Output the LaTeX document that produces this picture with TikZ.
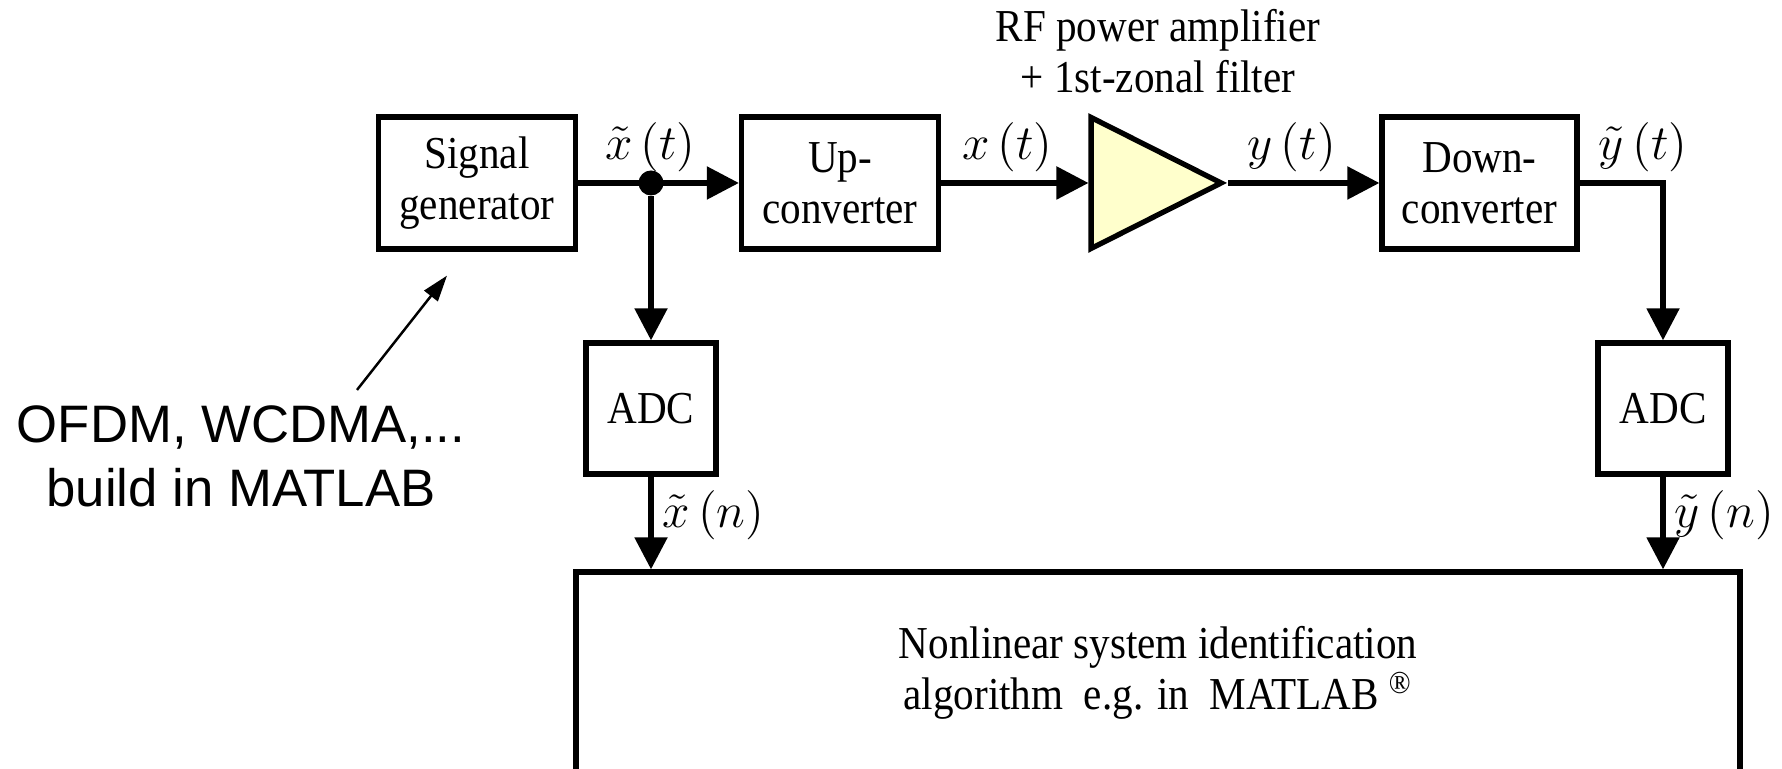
\RequirePackage{fix-cm}
\documentclass[tikz,border=0pt]{standalone}
\usepackage{fontspec}
\setmainfont{Liberation Serif}[FakeStretch=0.9]
\newfontfamily\notefont{Liberation Sans}
\usepackage{tikz}
\usetikzlibrary{shapes.geometric, positioning, calc}
\usetikzlibrary{arrows.meta}
\usepackage{xcolor}
\definecolor{ampyellow}{RGB}{255,255,204}

\begin{document}
\begin{tikzpicture}[
                auto,
                block/.style={rectangle, draw, line width=1.5pt, minimum width=1.97cm, minimum height=1.32cm, align=center, inner sep=1pt, font=\fontsize{13}{14.5}\selectfont},
                adcblock/.style={block, minimum width=1.30cm, minimum height=1.31cm},
                amplifier/.style={isosceles triangle, isosceles triangle stretches, draw, line width=1.5pt, fill=ampyellow, minimum width=1.31cm, minimum height=1.30cm, inner sep=0pt},
                junction/.style={circle, fill, inner sep=0pt, minimum size=0.25cm},
                sig/.style={font=\fontsize{14}{16}\selectfont, inner sep=2.5pt},
                caption/.style={align=center, font=\fontsize{13}{14.5}\selectfont},
                remark/.style={align=center, font=\notefont\fontsize{15}{18.2}\selectfont},
                line/.style={draw, line width=1.5pt, -{Triangle[length=3.2mm, width=3.2mm]}},
                note/.style={draw, line width=0.7pt, -{Triangle[length=2.6mm, width=1.7mm]}}
            ]
                \useasboundingbox (0,0) rectangle (17.82,7.69);

                % Transmit and receive chain
                \node[block] (sig) at (4.77,5.86) {Signal\\generator};
                \node[block] (up) at (8.40,5.86) {Up-\\converter};
                \node[amplifier, anchor=apex] (pa) at (12.28,5.86) {};
                \node[caption] (patext) at (11.58,7.18) {RF power amplifier\\+ 1st-zonal filter};
                \node[block, minimum width=1.95cm] (down) at (14.795,5.86) {Down-\\converter};
                \node[junction] (split) at (6.51,5.86) {};

                % Sampling and identification
                \node[adcblock] (adc1) at (6.51,3.605) {ADC};
                \node[adcblock] (adc2) at (16.63,3.605) {ADC};
                \node[block, minimum width=11.64cm, minimum height=2.02cm] (alg) at (11.58,0.96) {Nonlinear system identification\\algorithm~ e.g. in~ MATLAB~\textsuperscript{\textregistered}};

                % Test signals
                \node[remark] (src) at (2.41,3.13) {OFDM, WCDMA,...\\build in MATLAB};

                \path[line] (sig) -- node[sig, above, pos=0.45] {$\tilde{x}\,(t)$} (up);
                \path[line] (up) -- node[sig, above, pos=0.45] {$x\,(t)$} (pa);
                \path[line] (pa.apex) -- node[sig, above, pos=0.42] {$y\,(t)$} (down);
                \path[line] (down.east) -| node[sig, above, pos=0.38] {$\tilde{y}\,(t)$} (adc2.north);
                \path[line] (split) -- (adc1);
                \path[line] (adc1) -- node[sig, right, pos=0.42] {$\tilde{x}\,(n)$} (adc1 |- alg.north);
                \path[line] (adc2) -- node[sig, right, pos=0.42] {$\tilde{y}\,(n)$} (adc2 |- alg.north);
                \path[note] ($(src.north)+(1.16,0.03)$) -- ($(sig.south)+(-0.30,-0.24)$);
            \end{tikzpicture}
\end{document}
